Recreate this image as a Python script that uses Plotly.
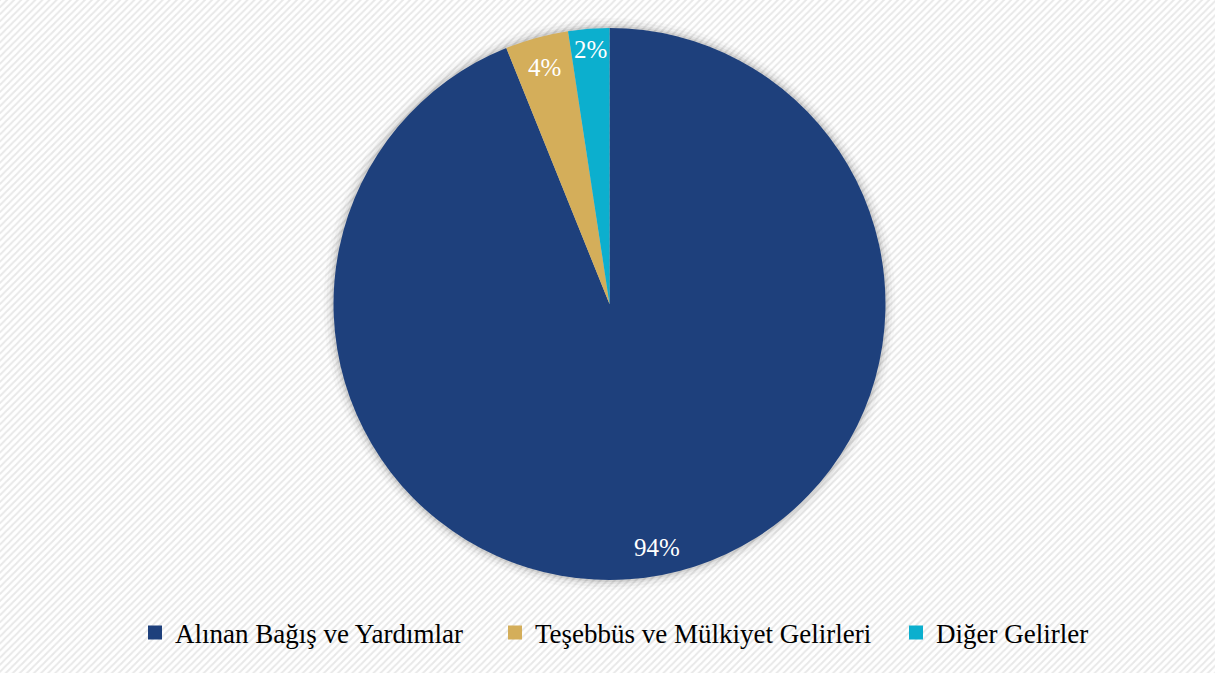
import numpy as np
import plotly.graph_objects as go

categories = ["Alınan Bağış ve Yardımlar", "Teşebbüs ve Mülkiyet Gelirleri", "Diğer Gelirler"]
values = [93.9, 3.7, 2.4]
colors = ["#1E407C", "#D4AE5A", "#0CAFCE"]

W, H = 1215, 673
cx, cy, R = 609.5, 304.0, 276.0  # pie centre / radius in px (from top-left)
SERIF = "Times New Roman, Liberation Serif, serif"
legend_marker_px = [155, 515, 916]  # legend swatch centres (px from left)

fig = go.Figure()

# striped background
fig.add_trace(go.Scatter(
    x=[0, 1, 1, 0, 0], y=[0, 0, 1, 1, 0], mode="lines", fill="toself",
    line=dict(width=0), fillcolor="white",
    fillpattern=dict(shape="/", fgcolor="#d2d2d2", bgcolor="white", size=5, solidity=0.4),
    showlegend=False, hoverinfo="skip"))

# soft shadow rings
for k, a in [(10, 0.025), (7, 0.035), (4, 0.05), (2, 0.07)]:
    r = R + k
    fig.add_trace(go.Pie(
        values=[1], marker=dict(colors=[f"rgba(0,0,0,{a})"], line=dict(width=0)),
        domain=dict(x=[(cx - r) / W, (cx + r) / W], y=[(H - cy - r) / H, (H - cy + r) / H]),
        textinfo="none", showlegend=False, hoverinfo="skip", sort=False))

fig.add_trace(go.Pie(
    labels=categories, values=values, sort=False, direction="clockwise", rotation=0,
    marker=dict(colors=colors, line=dict(width=0)),
    textinfo="none", showlegend=False,
    domain=dict(x=[(cx - R) / W, (cx + R) / W], y=[(H - cy - R) / H, (H - cy + R) / H]),
))

# percentage labels placed along each slice bisector
vals = np.array(values)
frac = vals / vals.sum()
ends = np.cumsum(frac)
mids = ends - frac / 2
radii = [0.90, 0.89, 0.925]
for f, m, rf in zip(frac, mids, radii):
    ang = 2 * np.pi * m  # clockwise from top
    rr = rf * R
    px = cx + rr * np.sin(ang)
    py = cy - rr * np.cos(ang)
    fig.add_annotation(x=px / W, y=1 - py / H, xref="paper", yref="paper",
                       xanchor="center", yanchor="middle",
                       text=f"{round(f * 100)}%", showarrow=False,
                       font=dict(family=SERIF, size=25, color="white"))

# legend: one legend box per category
legend_layout = {}
for i, (cat, col, mx) in enumerate(zip(categories, colors, legend_marker_px)):
    key = "legend" if i == 0 else f"legend{i + 1}"
    fig.add_trace(go.Scatter(
        x=[None], y=[None], mode="markers", name=cat, legend=key,
        marker=dict(symbol="square", size=14, color=col, line=dict(width=0))))
    legend_layout[key] = dict(
        orientation="h", x=(mx - 20) / W, xanchor="left", y=40 / H, yanchor="middle",
        itemwidth=30, font=dict(family=SERIF, size=27, color="black"),
        bgcolor="rgba(0,0,0,0)", borderwidth=0)

fig.update_layout(
    width=W, height=H,
    margin=dict(l=0, r=0, t=0, b=0),
    paper_bgcolor="white", plot_bgcolor="white",
    xaxis=dict(range=[0, 1], visible=False, domain=[0, 1], fixedrange=True),
    yaxis=dict(range=[0, 1], visible=False, domain=[0, 1], fixedrange=True),
    showlegend=True,
    **legend_layout,
)

fig.write_html("out.html", config={"displayModeBar": False},
               post_script="document.body.style.margin='0';document.body.style.overflow='hidden';")
